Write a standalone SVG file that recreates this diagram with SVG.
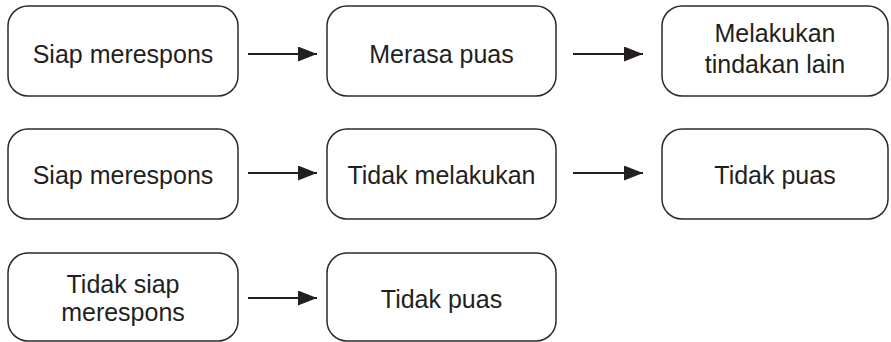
<svg xmlns="http://www.w3.org/2000/svg" width="891" height="342" viewBox="0 0 891 342">
  <style>
    .box { fill: #ffffff; stroke: #2b2b2b; stroke-width: 1.5; }
    .lbl { font-family: "Liberation Sans", Arial, sans-serif; font-size: 25px; fill: #231f20; text-anchor: middle; }
    .edge { stroke: #231f20; stroke-width: 2.2; fill: none; }
  </style>
  <defs>
    <marker id="arrow" viewBox="0 0 19 15" refX="19" refY="7.5" markerWidth="19" markerHeight="15" markerUnits="userSpaceOnUse" orient="auto">
      <path d="M0,0 L19,7.5 L0,15 Z" fill="#231f20"/>
    </marker>
  </defs>
  <rect width="891" height="342" fill="#ffffff"/>

  <!-- row 1 -->
  <g id="n1">
    <rect class="box" x="8" y="6" width="230" height="90" rx="20"/>
    <text class="lbl" x="123" y="63">Siap merespons</text>
  </g>
  <g id="n2">
    <rect class="box" x="327" y="6" width="229" height="90" rx="20"/>
    <text class="lbl" x="441.5" y="63">Merasa puas</text>
  </g>
  <g id="n3">
    <rect class="box" x="662" y="6" width="226" height="90" rx="20"/>
    <text class="lbl" x="775" y="42">Melakukan</text>
    <text class="lbl" x="775" y="73">tindakan lain</text>
  </g>

  <!-- row 2 -->
  <g id="n4">
    <rect class="box" x="8" y="129" width="230" height="90" rx="20"/>
    <text class="lbl" x="123" y="184">Siap merespons</text>
  </g>
  <g id="n5">
    <rect class="box" x="327" y="129" width="229" height="90" rx="20"/>
    <text class="lbl" x="441.5" y="184">Tidak melakukan</text>
  </g>
  <g id="n6">
    <rect class="box" x="662" y="129" width="226" height="90" rx="20"/>
    <text class="lbl" x="775" y="184">Tidak puas</text>
  </g>

  <!-- row 3 -->
  <g id="n7">
    <rect class="box" x="8" y="253" width="230" height="88" rx="20"/>
    <text class="lbl" x="123" y="293">Tidak siap</text>
    <text class="lbl" x="123" y="321">merespons</text>
  </g>
  <g id="n8">
    <rect class="box" x="327" y="253" width="229" height="88" rx="20"/>
    <text class="lbl" x="441.5" y="308">Tidak puas</text>
  </g>

  <!-- connectors -->
  <g id="edges">
    <line class="edge" x1="248" y1="54" x2="317" y2="54" marker-end="url(#arrow)"/>
    <line class="edge" x1="573" y1="54" x2="643" y2="54" marker-end="url(#arrow)"/>
    <line class="edge" x1="248" y1="173" x2="317" y2="173" marker-end="url(#arrow)"/>
    <line class="edge" x1="573" y1="173" x2="643" y2="173" marker-end="url(#arrow)"/>
    <line class="edge" x1="248" y1="298" x2="317" y2="298" marker-end="url(#arrow)"/>
  </g>
</svg>
